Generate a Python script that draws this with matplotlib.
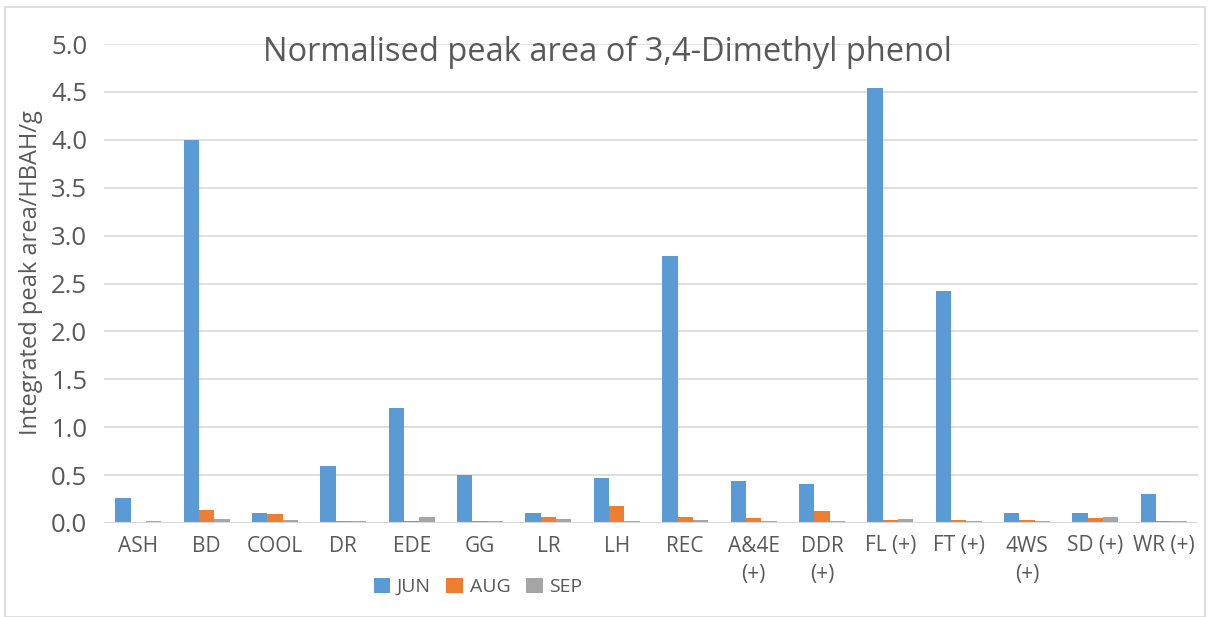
import matplotlib
matplotlib.use("Agg")
import matplotlib.pyplot as plt
import numpy as np
from matplotlib.patches import Rectangle

categories = ["ASH", "BD", "COOL", "DR", "EDE", "GG", "LR", "LH", "REC",
              "A&4E\n(+)", "DDR\n(+)", "FL (+)", "FT (+)", "4WS\n(+)", "SD (+)", "WR (+)"]
jun = [0.26, 4.00, 0.105, 0.59, 1.20, 0.505, 0.10, 0.47, 2.79,
       0.44, 0.41, 4.54, 2.42, 0.10, 0.105, 0.30]
aug = [0.0, 0.135, 0.094, 0.024, 0.017, 0.024, 0.063, 0.174, 0.063,
       0.052, 0.128, 0.03, 0.028, 0.028, 0.056, 0.02]
sep = [0.02, 0.04, 0.03, 0.024, 0.06, 0.024, 0.038, 0.024, 0.03,
       0.024, 0.02, 0.04, 0.02, 0.02, 0.063, 0.024]
series_names = ["JUN", "AUG", "SEP"]
colors = ["#5B9BD5", "#ED7D31", "#A5A5A5"]
yticks = [0.0, 0.5, 1.0, 1.5, 2.0, 2.5, 3.0, 3.5, 4.0, 4.5, 5.0]

plt.rcParams['font.family'] = ['Open Sans', 'DejaVu Sans']
text_color = "#595959"

fig = plt.figure(figsize=(12.08, 6.17), dpi=100)
ax = fig.add_axes([104/1208, 1-523/617, (1198-104)/1208, (523-44)/617])

x = np.arange(len(categories))
w = 0.224
for i, (vals, name, c) in enumerate(zip([jun, aug, sep], series_names, colors)):
    ax.bar(x + (i-1)*w, vals, width=w, color=c, label=name, zorder=3)

ax.set_xlim(-0.5, len(categories)-0.5)
ax.set_ylim(0, 5.0)
ax.set_yticks(yticks)
ax.set_yticklabels([f"{v:.1f}" for v in yticks], fontsize=18.5, color=text_color)
ax.set_xticks(x)
ax.set_xticklabels(categories, fontsize=15, color=text_color, linespacing=1.45, va='top')
ax.tick_params(axis='both', length=0)
ax.tick_params(axis='y', pad=12)
ax.tick_params(axis='x', pad=9)
ax.grid(axis='y', color="#D9D9D9", linewidth=1.2, zorder=0)
for s in ax.spines.values():
    s.set_visible(False)
ax.axhline(0, color="#D9D9D9", linewidth=1.5, zorder=4)

fig.text(31/1208, 1-273/617, "Integrated peak area/HBAH/g", rotation=90,
         fontsize=17, color=text_color, ha='center', va='center')

fig.text(607/1208, 1-52/617, "Normalised peak area of 3,4-Dimethyl phenol",
         fontsize=23.5, color=text_color, ha='center', va='center')

leg = fig.legend(loc='center', bbox_to_anchor=(478/1208, 1-587/617), ncol=3,
                 frameon=False, fontsize=14, handlelength=0.85, handleheight=0.85,
                 handletextpad=0.35, columnspacing=0.8)
for t in leg.get_texts():
    t.set_color(text_color)

fig.patches.append(Rectangle((5/1208, 0), 1200/1208, 1-7/617, transform=fig.transFigure,
                             fill=False, edgecolor="#D9D9D9", linewidth=1.2))

fig.savefig("out.png", dpi=100)
